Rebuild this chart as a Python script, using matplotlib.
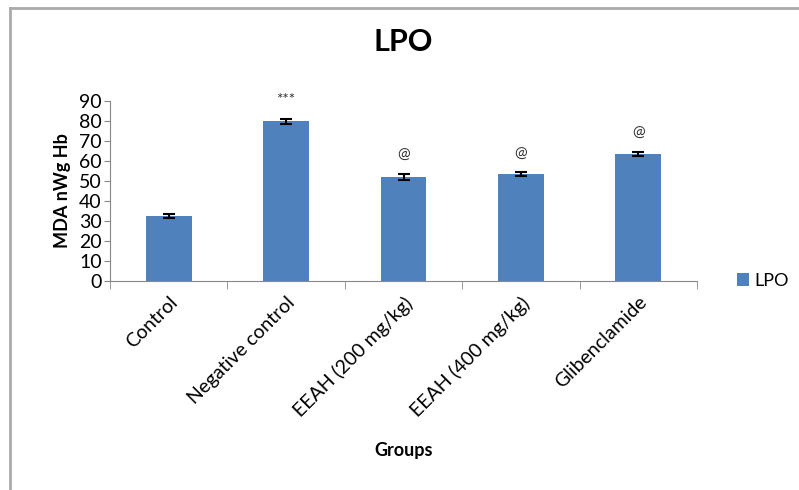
import numpy as np
import matplotlib.pyplot as plt
from matplotlib.lines import Line2D

# data
groups = ["Control", "Negative control", "EEAH (200 mg/kg)", "EEAH (400 mg/kg)", "Glibenclamide"]
lpo = [32.5, 79.8, 52.2, 53.5, 63.5]
lpo_err = [1.0, 1.2, 1.5, 0.8, 1.2]
marks = ["", "***", "@", "@", "@"]

plt.rcParams['font.family'] = ['Lato', 'DejaVu Sans']

fig = plt.figure(figsize=(7.99, 4.90), dpi=100)
ax = fig.add_axes([0.1377, 0.4265, 0.7347, 0.3673])

x = np.arange(len(groups))
ax.bar(x, lpo, width=0.39, color="#4F81BD", label="LPO", zorder=2)
ax.errorbar(x, lpo, yerr=lpo_err, fmt="none", ecolor="black", elinewidth=1.5,
            capsize=4, capthick=1.5, zorder=3)

for xi, v, e, m in zip(x, lpo, lpo_err, marks):
    if m:
        ax.text(xi, v + e + 6, m, ha="center", va="bottom", fontsize=11, color="#333333")

ax.set_xlim(-0.5, len(groups) - 0.5)
ax.set_ylim(0, 90)
ax.set_yticks(range(0, 91, 10))
ax.tick_params(axis="y", labelsize=14, length=4, color="#888888", pad=2)

ax.set_xticks(x)
ax.set_xticklabels(groups, rotation=45, ha="right", rotation_mode="anchor", fontsize=14)
ax.tick_params(axis="x", length=0, pad=9)
ax.set_xticks(np.arange(-0.5, len(groups), 1), minor=True)
ax.tick_params(axis="x", which="minor", length=6, color="#888888")

for s in ["top", "right"]:
    ax.spines[s].set_visible(False)
for s in ["left", "bottom"]:
    ax.spines[s].set_color("#888888")

ax.set_ylabel("MDA nWg Hb", fontsize=13, fontweight="bold", labelpad=6)
ax.set_xlabel("Groups", fontsize=13, fontweight="bold", labelpad=16)
ax.set_title("LPO", fontsize=22, fontweight="bold", pad=36)

ax.legend(loc="center left", bbox_to_anchor=(1.04, 0.0), frameon=False, fontsize=13,
          handlelength=0.7, handleheight=0.7, handletextpad=0.3)

# outer frame
fig.add_artist(Line2D([0.0125, 0.0125], [0.0, 0.984], color="#aaaaaa", lw=2))
fig.add_artist(Line2D([0.0125, 1.0], [0.984, 0.984], color="#aaaaaa", lw=2))

fig.savefig("out.png", dpi=100)
